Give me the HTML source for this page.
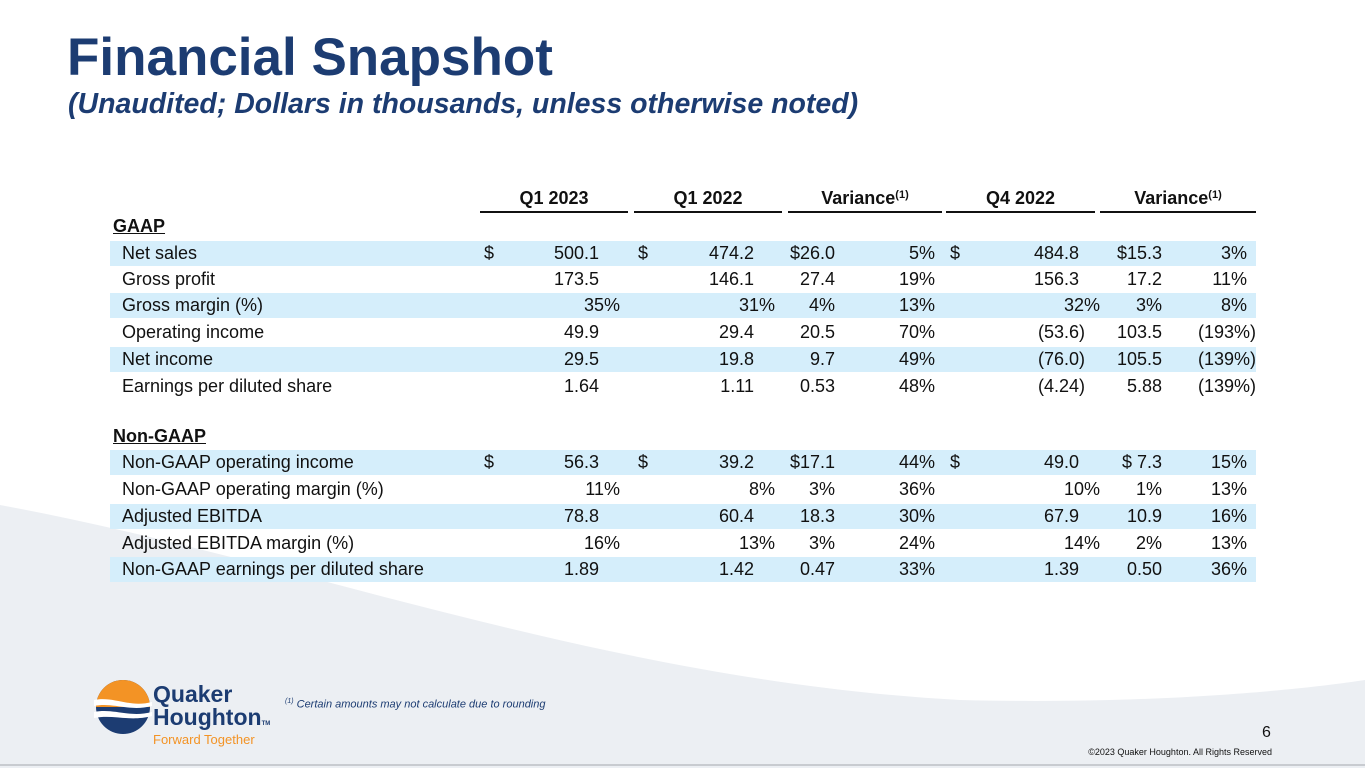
<!DOCTYPE html>
<html><head><meta charset="utf-8">
<style>
body{margin:0;width:1365px;height:768px;position:relative;overflow:hidden;background:#fff;font-family:"Liberation Sans",sans-serif;color:#111}
.a{position:absolute;white-space:nowrap}
.t{font-size:18px;line-height:20px}
.band{position:absolute;left:110px;width:1146px;height:25px;background:#d5eefb}
.hd{position:absolute;font-size:18px;font-weight:bold;text-align:center;border-bottom:2px solid #111;line-height:22px;height:24px}
.hd sup{font-size:11px;line-height:0;vertical-align:6px}
</style></head><body>
<svg class="a" style="left:0;top:0" width="1365" height="768">
<path d="M0 505 C300 560 600 680 960 700 C1150 705 1300 690 1365 680 L1365 768 L0 768 Z" fill="#eceff3"/>
<line x1="0" y1="765" x2="1365" y2="765" stroke="#c8cbd0" stroke-width="2"/>
</svg>
<div class="a" style="left:67px;top:27px;font-size:53px;font-weight:bold;color:#1c3c72">Financial Snapshot</div>
<div class="a" style="left:68px;top:88px;font-size:28.5px;font-weight:bold;font-style:italic;color:#1c3c72">(Unaudited; Dollars in thousands, unless otherwise noted)</div>
<div id="tbl"></div>
<svg class="a" style="left:94px;top:678px" width="60" height="60">
<circle cx="29" cy="29" r="27" fill="#1c3c72"/>
<path d="M2 29 A27 27 0 0 1 56 29 Z" fill="#f39325"/>
<path d="M0 22 C20 18 35 30 58 24 L58 28 C35 34 20 24 0 28Z" fill="#fff"/>
<path d="M0 34 C20 30 35 40 58 34 L58 38 C35 44 20 36 0 40Z" fill="#fff"/>
</svg>
<div class="a" style="left:153px;top:682px;font-size:23px;font-weight:bold;color:#1c3c72;line-height:24px">Quaker</div>
<div class="a" style="left:153px;top:705px;font-size:23px;font-weight:bold;color:#1c3c72;line-height:24px">Houghton<span style="font-size:6px">TM</span></div>
<div class="a" style="left:153px;top:732px;font-size:13px;color:#f39325">Forward Together</div>
<div class="a" style="left:285px;top:698px;font-size:11px;font-style:italic;color:#1c3c72"><sup style="font-size:7px">(1)</sup> Certain amounts may not calculate due to rounding</div>
<div class="a" style="left:1262px;top:724px;font-size:16px">6</div>
<div class="a" style="right:93px;top:747px;font-size:9px">©2023 Quaker Houghton. All Rights Reserved</div>
<script>
const heads=[["Q1 2023",480,628],["Q1 2022",634,782],["Variance",788,942,1],["Q4 2022",946,1095],["Variance",1100,1256,1]];
const rows=[
["GAAP"],
["Net sales","$","500.1","","$","474.2","","$26.0","5%","$","484.8","","$15.3","3%"],
["Gross profit","","173.5","","","146.1","","27.4","19%","","156.3","","17.2","11%"],
["Gross margin (%)","","","35%","","","31%","4%","13%","","","32%","3%","8%"],
["Operating income","","49.9","","","29.4","","20.5","70%","","(53.6)","","103.5","(193%)"],
["Net income","","29.5","","","19.8","","9.7","49%","","(76.0)","","105.5","(139%)"],
["Earnings per diluted share","","1.64","","","1.11","","0.53","48%","","(4.24)","","5.88","(139%)"],
["Non-GAAP"],
["Non-GAAP operating income","$","56.3","","$","39.2","","$17.1","44%","$","49.0","","$ 7.3","15%"],
["Non-GAAP operating margin (%)","","","11%","","","8%","3%","36%","","","10%","1%","13%"],
["Adjusted EBITDA","","78.8","","","60.4","","18.3","30%","","67.9","","10.9","16%"],
["Adjusted EBITDA margin (%)","","","16%","","","13%","3%","24%","","","14%","2%","13%"],
["Non-GAAP earnings per diluted share","","1.89","","","1.42","","0.47","33%","","1.39","","0.50","36%"]];
const rowY=[226,253,279,305,332,359,386,436,462,489,516,543,569];
const bands=[1,3,5,8,10,12];
const cols=[["l",484],["r",599],["r",620],["l",638],["r",754],["r",775],["r",835],["r",935],["l",950],["r",1079],["r",1100],["r",1162],["r",1247]];
const tb=document.getElementById('tbl');
heads.forEach(h=>{const d=document.createElement('div');d.className='hd';


d.style.left=h[1]+'px';d.style.width=(h[2]-h[1])+'px';d.style.top='187px';
d.innerHTML=h[0]+(h[3]?'<sup>(1)</sup>':'');tb.appendChild(d);});
rows.forEach((r,i)=>{const y=rowY[i];
if(bands.includes(i)){const b=document.createElement('div');b.className='band';


b.style.top=(y-12)+'px';tb.appendChild(b);}
const L=document.createElement('div');L.className='a t';


L.style.top=(y-10)+'px';
if(r.length==1){L.style.left='113px';L.style.fontWeight='bold';L.style.textDecoration='underline';}else L.style.left='122px';
L.textContent=r[0];tb.appendChild(L);
for(let c=1;c<r.length;c++){if(!r[c])continue;const v=r[c];const [t,x]=cols[c-1];
const e=document.createElement('div');e.className='a t';


e.style.top=(y-10)+'px';
if(t=='l')e.style.left=x+'px';else{let xx=x;if(v.endsWith(')'))xx+=(v.endsWith('%)')?9:6);e.style.right=(1365-xx)+'px';}
e.textContent=v;tb.appendChild(e);}
});
</script>
</body></html>
